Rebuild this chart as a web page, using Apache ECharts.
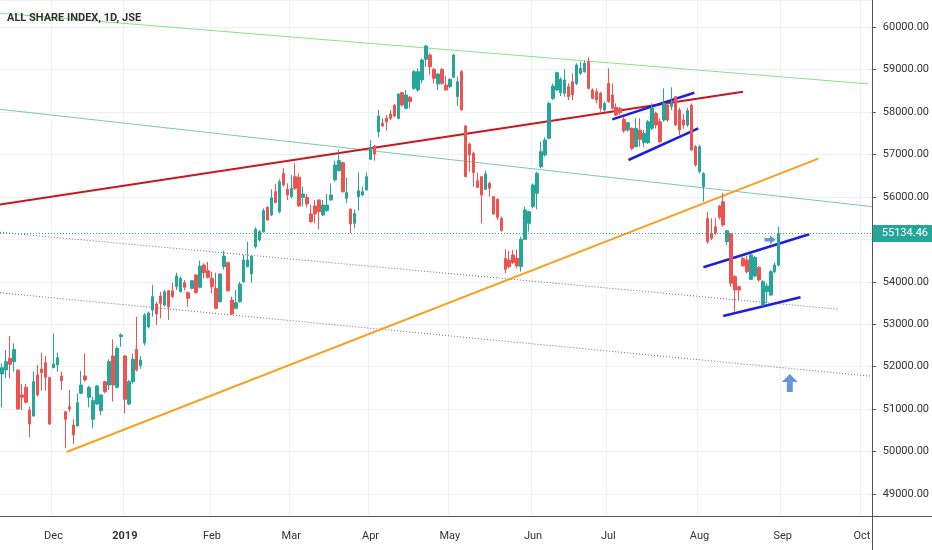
<!DOCTYPE html>
<html>
<head>
<meta charset="utf-8">
<title>ALL SHARE INDEX, 1D, JSE</title>
<script src="https://cdn.jsdelivr.net/npm/echarts@6/dist/echarts.min.js"></script>
<style>
  html, body { margin: 0; padding: 0; background: #fff; }
  #result { width: 932px; height: 550px; }
</style>
</head>
<body>
<div id="result"></div>
<script>
// ---- 交易日 (JSE) ----
var holidays = ['2018-12-17', '2018-12-25', '2018-12-26', '2019-01-01', '2019-03-21', '2019-04-19',
                '2019-04-22', '2019-05-01', '2019-05-08', '2019-06-17', '2019-08-09', '2019-09-24'];
var dates = [];
(function () {
    var d = new Date(Date.UTC(2018, 10, 14));
    var end = Date.UTC(2019, 9, 3);
    while (d.getTime() <= end) {
        var s = d.toISOString().slice(0, 10);
        var wd = d.getUTCDay();
        if (wd !== 0 && wd !== 6 && holidays.indexOf(s) < 0) dates.push(s);
        d.setUTCDate(d.getUTCDate() + 1);
    }
})();
var monthNames = ['Jan', 'Feb', 'Mar', 'Apr', 'May', 'Jun', 'Jul', 'Aug', 'Sep', 'Oct', 'Nov', 'Dec'];

// ---- K线数据 [open, close, low, high] ----
var candles = [
    [51828, 51977, 51043, 52079], [51922, 52119, 51726, 52393], [52197, 52056, 51726, 52723], [52119, 52409, 51883, 52550],
    [51922, 51004, 50980, 51938], [51334, 51279, 50980, 51593], [51514, 51161, 51137, 51593], [50980, 50651, 50337, 51059],
    [50839, 51648, 50823, 51883], [51805, 51334, 51294, 52040], [51946, 51860, 51436, 52331], [52095, 51750, 51436, 52252],
    [51742, 50651, 50627, 51766], [51977, 52064, 51962, 52786], [52040, 52213, 51883, 52331], [51781, 51671, 51451, 51883],
    [50941, 50761, 50078, 50957], [51059, 51004, 50941, 51451], [50627, 50392, 50180, 50761], [50604, 51153, 50588, 51373],
    [51373, 51569, 51357, 51899], [51781, 51687, 51648, 52315], [51279, 51514, 51043, 51546], [50761, 51200, 50549, 51294],
    [51122, 51546, 51098, 51570], [50965, 51334, 50863, 51350], [51648, 51412, 51373, 51671], [51569, 52119, 51452, 52174],
    [52252, 51569, 51177, 52645], [51514, 52433, 51490, 52472], [52707, 52747, 52472, 52786], [52252, 51232, 50902, 52276],
    [51122, 51648, 51098, 51687], [51648, 52174, 51600, 52300], [52409, 51922, 51883, 53178], [52025, 52158, 51950, 52250],
    [52558, 53217, 52500, 53260], [52935, 53265, 52900, 53300], [53335, 53649, 53178, 53924], [53476, 53241, 52982, 53531],
    [53665, 53492, 53139, 53767], [53453, 53767, 53414, 53806], [53790, 53414, 53100, 53806], [53790, 53649, 53610, 53979],
    [53885, 54136, 53806, 54214], [53767, 54081, 53743, 54120], [53979, 53869, 53806, 54041], [53743, 53610, 53414, 53767],
    [53845, 54026, 53822, 54041], [54159, 53743, 53728, 54183], [53869, 54371, 53845, 54497], [54395, 54214, 54081, 54434],
    [54261, 54104, 54081, 54473], [54081, 53885, 53728, 54238], [53845, 53374, 53351, 54214], [53531, 54183, 53508, 54198],
    [54356, 54607, 54293, 54732], [54450, 53790, 53767, 54473], [53571, 53241, 53217, 53649], [53374, 53508, 53351, 53806],
    [53531, 53947, 53508, 54002], [54002, 54513, 53979, 54630], [54356, 54513, 54340, 54944], [54183, 54607, 53979, 54630],
    [54826, 55235, 54787, 55282], [54984, 55180, 54944, 55219], [55180, 55674, 55156, 55729], [55753, 55455, 55439, 55784],
    [55572, 55980, 55549, 56177], [56122, 55863, 55848, 56303], [55651, 56358, 55612, 56413], [56554, 56279, 56240, 56672],
    [56177, 56044, 55926, 56319], [56005, 56201, 55965, 56515], [56476, 56201, 56162, 56790], [56460, 55785, 55769, 56554],
    [55989, 56067, 55769, 56240], [55989, 55832, 55753, 56067], [55596, 55416, 55392, 55808], [55785, 55596, 55377, 55926],
    [55926, 55651, 55235, 55942], [55573, 55808, 55549, 55926], [55675, 55808, 55651, 56067], [55926, 56044, 55910, 56319],
    [56397, 56750, 56358, 56852], [56617, 56852, 56593, 57119], [56805, 56122, 56099, 56829], [55965, 56099, 55848, 56460],
    [55706, 55361, 55141, 55730], [55377, 55612, 55259, 55706], [56005, 56146, 55675, 56570], [56044, 56122, 56020, 56240],
    [56162, 56476, 56146, 56570], [56884, 57166, 56868, 57339], [57198, 57009, 56852, 57221], [57535, 57904, 57402, 58046],
    [57732, 57669, 57653, 57849], [57849, 57771, 57559, 57928], [57951, 57849, 57810, 58046], [58163, 57904, 57873, 58187],
    [57849, 58422, 57826, 58438], [58454, 58163, 58124, 58477], [58085, 58399, 58061, 58517], [58344, 58242, 58085, 58375],
    [58556, 58948, 58517, 58988], [58517, 58948, 58477, 59027], [58752, 59223, 58674, 59262], [59239, 59553, 59066, 59576],
    [59341, 59066, 58870, 59380], [59003, 58791, 58674, 59027], [58658, 58893, 58517, 58909], [59003, 58674, 58634, 59027],
    [58634, 58517, 58501, 58846], [58595, 58768, 58556, 58791], [58815, 59341, 58791, 59364], [58360, 58713, 58140, 58831],
    [58948, 58046, 58030, 58988], [57669, 56476, 56460, 57692], [57245, 56986, 56593, 57276], [57025, 56570, 56240, 57064],
    [56381, 56224, 56201, 56570], [56476, 56044, 55377, 56491], [56177, 56538, 56162, 56617], [56319, 56201, 56005, 56358],
    [56005, 55596, 55573, 56020], [55942, 55518, 55455, 55965], [55494, 55204, 55180, 55534], [54552, 54293, 54199, 54764],
    [54513, 54356, 54317, 54733], [54631, 54450, 54419, 54749], [54552, 54372, 54317, 54764], [54356, 55000, 54238, 55062],
    [55000, 55691, 54984, 55769], [55376, 55651, 55180, 55675], [55769, 56279, 55730, 56319], [56083, 56554, 55706, 56593],
    [56711, 57064, 56672, 57300], [56986, 57339, 56950, 57400], [57378, 58202, 57354, 58241], [58320, 58610, 58281, 58673],
    [58516, 58924, 58500, 58948], [58453, 58767, 58375, 58814], [58438, 58752, 58359, 59003], [58595, 58359, 58281, 58673],
    [58712, 58398, 58281, 58909], [58673, 59105, 58634, 59144], [58909, 59026, 58869, 59183], [58948, 59144, 58924, 59207],
    [59183, 58555, 58532, 59285], [58516, 58320, 58296, 58555], [58477, 58281, 58202, 58555], [58438, 58084, 58006, 58477],
    [58045, 58202, 58006, 58241], [58673, 58241, 58218, 59026], [58398, 58084, 58061, 58673], [58108, 57927, 57904, 58202],
    [58084, 57982, 57927, 58123], [57825, 57558, 57511, 57888], [57574, 57747, 57535, 57770], [57613, 57142, 57103, 57637],
    [57181, 57613, 57166, 57849], [57574, 57354, 57181, 57849], [57276, 57496, 57166, 57574], [57276, 57770, 57244, 57810],
    [57613, 58084, 57574, 58202], [57967, 57692, 57613, 58006], [57770, 57299, 57260, 57849], [57809, 58202, 57770, 58555],
    [58163, 57809, 57770, 58202], [58124, 58202, 58045, 58579], [58359, 57692, 57668, 58375], [58045, 57575, 57456, 58100],
    [57810, 57690, 57600, 57950], [57692, 58030, 57650, 58100], [58163, 57103, 57087, 58200], [57182, 56750, 56711, 57221],
    [56600, 57180, 56550, 57221], [56240, 56550, 55886, 56580], [55495, 54944, 54890, 55651], [55141, 55023, 54984, 55494],
    [55298, 55157, 55102, 55494], [55785, 55518, 55471, 55808], [55887, 55337, 55298, 56083], [54945, 55204, 54866, 55220],
    [55125, 53964, 53885, 55141], [54121, 53807, 53296, 54160], [53885, 53807, 53571, 53901], [54553, 54372, 54356, 54592],
    [54514, 54238, 54199, 54607], [54058, 54631, 54042, 54654], [54136, 54576, 54105, 54607], [54340, 54042, 54003, 54372],
    [53453, 54003, 53430, 54042], [53767, 53901, 53492, 53964], [53689, 54238, 53665, 54278], [54238, 54395, 54200, 54450],
    [54395, 55134.46, 54356, 55298]
];
var lastPrice = 55134.46;

// ---- 趋势线 [bar index, price] ----
var greenLine  = [[-0.5, 60323], [218.5, 58660]];
var tealLine   = [[-0.5, 58062], [219.5, 55770]];
var redLine    = [[-0.5, 55820], [187, 58474]];
var orangeLine = [[16.3, 49990], [206, 56901]];
var dotLine1   = [[-0.5, 55165], [211, 53354]];
var dotLine2   = [[-0.5, 53741], [219.5, 51774]];
var blueLines  = [
    [[154.0, 57826], [174.7, 58453]],
    [[158.1, 56868], [175.7, 57614]],
    [[177.0, 54341], [203.7, 55118]],
    [[182.0, 53194], [201.5, 53634]]
];
var upArrow    = [[198.8, 51616]];
var rightArrow = [[193.8, 54990]];

function isMonthStart(i) {
    return i > 0 && dates[i].slice(5, 7) !== dates[i - 1].slice(5, 7);
}
function trend(data, color, width, type) {
    return {
        type: 'line', xAxisIndex: 1, data: data, symbol: 'none', silent: true, z: 3,
        lineStyle: { color: color, width: width, type: type || 'solid' }
    };
}

var axisColor = '#50535e';
var gridColor = '#eef1f6';
var series = [
    trend(greenLine, '#86e286', 1),
    trend(tealLine, '#7cc5b1', 1),
    trend(dotLine1, '#6a6d78', 1, [1, 2]),
    trend(dotLine2, '#6a6d78', 1, [1, 2]),
    {
        type: 'candlestick',
        data: candles,
        barWidth: 3,
        z: 4,
        itemStyle: {
            color: '#26a69a', color0: '#ef5350',
            borderColor: '#26a69a', borderColor0: '#ef5350', borderWidth: 1
        },
        markLine: {
            silent: true,
            symbol: 'none',
            lineStyle: { color: '#26a69a', type: [1, 2], width: 1 },
            label: {
                position: 'end', distance: 1,
                formatter: lastPrice.toFixed(2),
                backgroundColor: '#26a69a', color: '#fff',
                fontFamily: 'Roboto', fontSize: 11, padding: [3, 6, 3, 9]
            },
            data: [{ yAxis: lastPrice }]
        }
    },
    trend(redLine, '#c9171c', 2),
    trend(orangeLine, '#f7a021', 2)
];
blueLines.forEach(function (l) { series.push(trend(l, '#1c1ee0', 2.5)); });
series.push({
    type: 'scatter', xAxisIndex: 1, data: upArrow, silent: true, z: 6,
    symbol: 'path://M0,-10 L8,-1 L3,-1 L3,10 L-3,10 L-3,-1 L-8,-1 Z',
    symbolSize: [16, 18], itemStyle: { color: '#3c7fc7' }
});
series.push({
    type: 'scatter', xAxisIndex: 1, data: rightArrow, silent: true, z: 6,
    symbol: 'path://M0,3 L6,3 L6,0 L12,5 L6,10 L6,7 L0,7 Z',
    symbolSize: [11, 9], itemStyle: { color: '#3c7fc7' }
});

var option = {
    animation: false,
    backgroundColor: '#fff',
    title: {
        text: 'ALL SHARE INDEX, 1D, JSE',
        left: 2, top: 8,
        textStyle: { color: '#333', fontSize: 11, fontWeight: 'bold', fontFamily: 'Roboto' }
    },
    grid: { left: 0, right: 60, top: 0, bottom: 34 },
    xAxis: [
        {
            type: 'category',
            data: dates,
            boundaryGap: true,
            axisLine: { onZero: false, lineStyle: { color: axisColor } },
            axisTick: { alignWithLabel: true, length: 4, interval: isMonthStart, lineStyle: { color: axisColor } },
            axisLabel: {
                interval: isMonthStart,
                color: '#333', fontSize: 11, fontFamily: 'Roboto', margin: 15,
                formatter: function (v) {
                    var m = +v.slice(5, 7);
                    return m === 1 ? '{b|' + v.slice(0, 4) + '}' : monthNames[m - 1];
                },
                rich: { b: { fontWeight: 'bold', color: '#333', fontSize: 11, fontFamily: 'Roboto' } }
            },
            splitLine: { show: true, interval: isMonthStart, lineStyle: { color: gridColor } }
        },
        { type: 'value', min: -0.5, max: dates.length - 0.5, show: false }
    ],
    yAxis: {
        type: 'value',
        position: 'right',
        min: 48484, max: 60636,
        splitNumber: 12,
        minInterval: 1000, maxInterval: 1000,
        axisLine: { show: true, onZero: false, lineStyle: { color: axisColor } },
        axisTick: { show: true, length: 4, lineStyle: { color: axisColor } },
        axisLabel: {
            color: '#333', fontSize: 11, fontFamily: 'Roboto', margin: 11,
            showMinLabel: false, showMaxLabel: false,
            formatter: function (v) { return v % 1000 === 0 ? v.toFixed(2) : ''; }
        },
        splitLine: { lineStyle: { color: gridColor } }
    },
    graphic: [
        { type: 'line', silent: true, shape: { x1: 872, y1: 516.5, x2: 932, y2: 516.5 }, style: { stroke: axisColor, lineWidth: 1 } },
        { type: 'line', silent: true, shape: { x1: 872.5, y1: 516, x2: 872.5, y2: 550 }, style: { stroke: axisColor, lineWidth: 1 } }
    ],
    series: series
};

var myChart = echarts.init(document.getElementById('result'));
myChart.setOption(option);
</script>
</body>
</html>
